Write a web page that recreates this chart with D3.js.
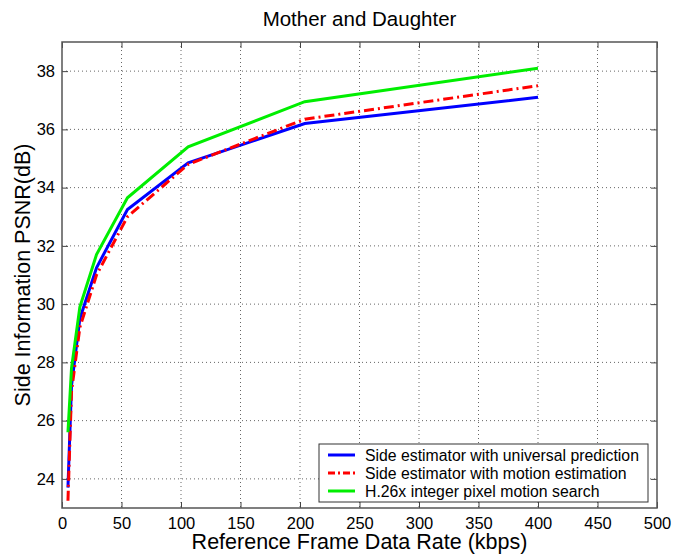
<!DOCTYPE html>
<html>
<head>
<meta charset="utf-8">
<script src="https://cdn.jsdelivr.net/npm/d3@7"></script>
<style>
body{margin:0;background:#fff;}
text{font-family:"Liberation Sans",Arial,sans-serif;}
</style>
</head>
<body>
<div id="chart"></div>
<script>
//data
var rates=[5,8,15,29,55,106,204,400];
var universal=[23.7,27.2,29.5,31.25,33.25,34.85,36.2,37.1];
var motionEst=[23.25,27.0,29.2,31.0,33.0,34.8,36.35,37.5];
var h26x=[25.6,27.8,29.9,31.7,33.65,35.4,36.95,38.1];
var xTicks=[0,50,100,150,200,250,300,350,400,450,500];
var yTicks=[24,26,28,30,32,34,36,38];
var seriesNames=["Side estimator with universal prediction","Side estimator with motion estimation","H.26x integer pixel motion search"];

//size
var svgWidth=673;
var svgHeight=557;
var margin={top:42,right:16,bottom:49,left:62};
var width=svgWidth-margin.left-margin.right;
var height=svgHeight-margin.top-margin.bottom;

var svg=d3.select("#chart")
    .append("svg")
    .attr("width",svgWidth)
    .attr("height",svgHeight);

var chartGroup=svg.append("g")
    .attr("transform",`translate(${margin.left},${margin.top})`);

var x=d3.scaleLinear().domain([0,500]).range([0,width]);
var y=d3.scaleLinear().domain([23,39]).range([height,0]);

//grid
chartGroup.selectAll(".vgrid")
    .data(xTicks.slice(1,-1))
    .enter()
    .append("line")
    .attr("x1",d=>x(d)).attr("x2",d=>x(d))
    .attr("y1",0).attr("y2",height)
    .attr("stroke","#666")
    .attr("stroke-width",1)
    .attr("stroke-dasharray","1,3");
chartGroup.selectAll(".hgrid")
    .data(yTicks)
    .enter()
    .append("line")
    .attr("x1",0).attr("x2",width)
    .attr("y1",d=>y(d)).attr("y2",d=>y(d))
    .attr("stroke","#666")
    .attr("stroke-width",1)
    .attr("stroke-dasharray","1,3");

//axes, ticks inside
var bottomAxis=d3.axisBottom(x).tickValues(xTicks).tickSizeInner(-6).tickSizeOuter(0).tickPadding(9);
var leftAxis=d3.axisLeft(y).tickValues(yTicks).tickSizeInner(-6).tickSizeOuter(0).tickPadding(7);
var topAxis=d3.axisTop(x).tickValues(xTicks).tickSizeInner(-6).tickSizeOuter(0).tickFormat("");
var rightAxis=d3.axisRight(y).tickValues(yTicks).tickSizeInner(-6).tickSizeOuter(0).tickFormat("");

var xAxis=chartGroup.append("g").attr("transform",`translate(0,${height})`).call(bottomAxis);
var yAxis=chartGroup.append("g").call(leftAxis);
chartGroup.append("g").call(topAxis);
chartGroup.append("g").attr("transform",`translate(${width},0)`).call(rightAxis);

chartGroup.selectAll(".domain").remove();
chartGroup.selectAll(".tick line").attr("stroke","#444");
chartGroup.selectAll(".tick text")
    .attr("font-size","16.5px")
    .attr("fill","#000")
    .style("font-family","'Liberation Sans',Arial,sans-serif");

//frame
chartGroup.append("rect")
    .attr("x",0).attr("y",0)
    .attr("width",width).attr("height",height)
    .attr("fill","none")
    .attr("stroke","#555")
    .attr("stroke-width",1.5);

//lines
var line=d3.line()
    .x((d,i)=>x(rates[i]))
    .y(d=>y(d));

var clip=chartGroup.append("clipPath").attr("id","clip")
    .append("rect").attr("width",width).attr("height",height);

var series=[
    {vals:universal,color:"#0000ff",dash:null},
    {vals:motionEst,color:"#ff0000",dash:"10,4,2,4"},
    {vals:h26x,color:"#00ee00",dash:null}
];

chartGroup.selectAll(".curve")
    .data(series)
    .enter()
    .append("path")
    .attr("d",d=>line(d.vals))
    .attr("fill","none")
    .attr("stroke",d=>d.color)
    .attr("stroke-width",3)
    .attr("stroke-dasharray",d=>d.dash)
    .attr("clip-path","url(#clip)");

//legend
var legend=svg.append("g").attr("transform","translate(319,444)");
legend.append("rect")
    .attr("width",329).attr("height",58)
    .attr("fill","#fff")
    .attr("stroke","#333")
    .attr("stroke-width",1);
series.forEach(function(s,i){
    var ly=11+i*18;
    legend.append("line")
        .attr("x1",9).attr("x2",36)
        .attr("y1",ly).attr("y2",ly)
        .attr("stroke",s.color)
        .attr("stroke-width",3)
        .attr("stroke-dasharray",s.dash?"7,3,2,3":null);
    legend.append("text")
        .attr("x",46).attr("y",ly+5.5)
        .attr("font-size","15.8px")
        .text(seriesNames[i]);
});

//title and labels
svg.append("text")
    .attr("x",margin.left+width/2).attr("y",26)
    .attr("text-anchor","middle")
    .attr("font-size","20.5px")
    .text("Mother and Daughter");

svg.append("text")
    .attr("x",margin.left+width/2).attr("y",549)
    .attr("text-anchor","middle")
    .attr("font-size","21.5px")
    .text("Reference Frame Data Rate (kbps)");

svg.append("text")
    .attr("transform",`translate(30,${margin.top+height/2}) rotate(-90)`)
    .attr("text-anchor","middle")
    .attr("font-size","21.5px")
    .text("Side Information PSNR(dB)");
</script>
</body>
</html>
